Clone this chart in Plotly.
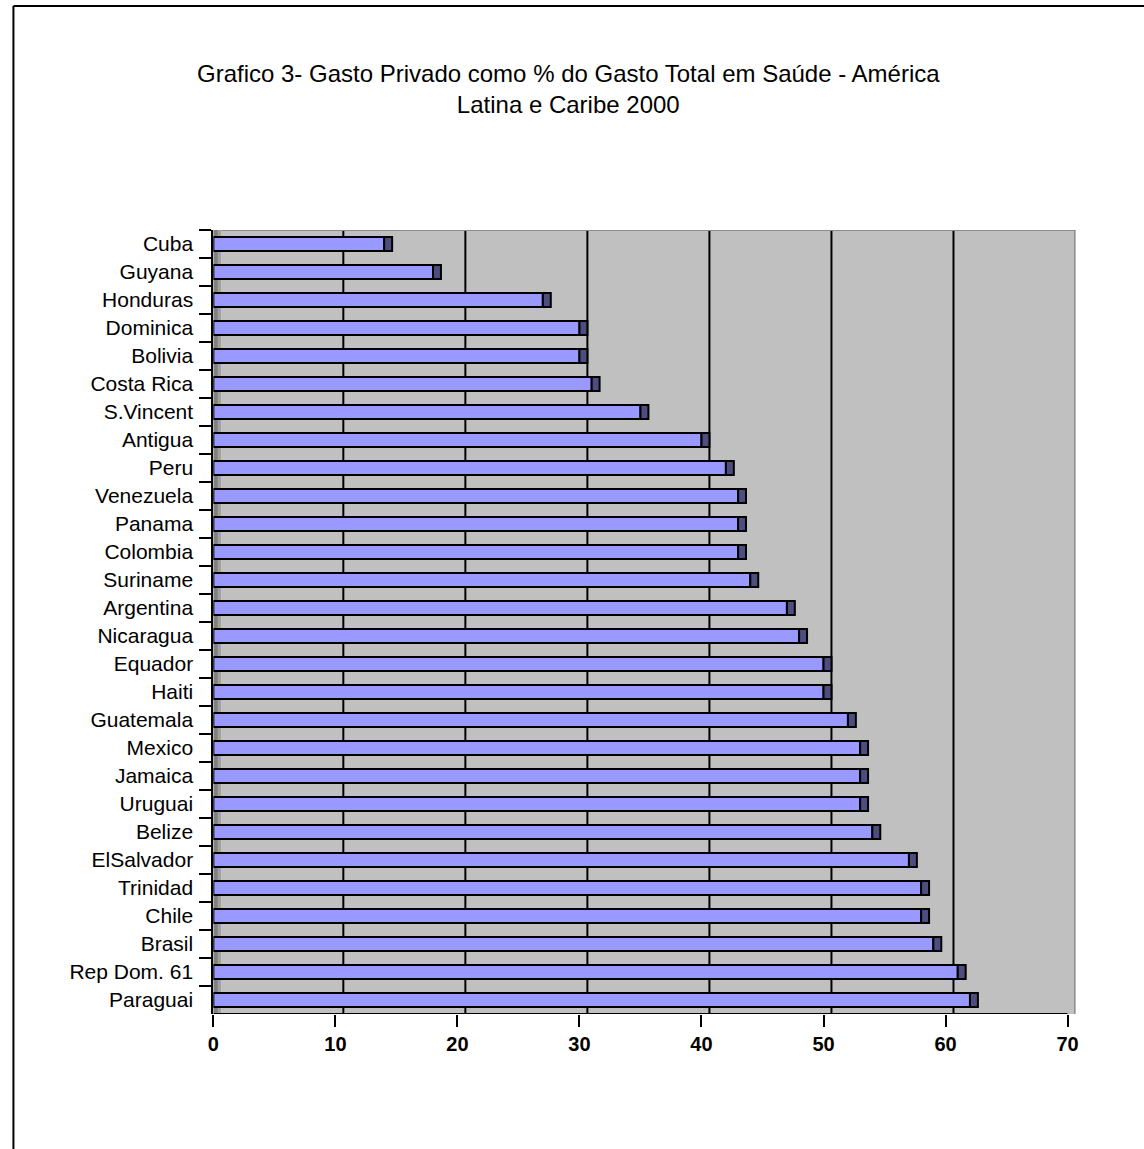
import plotly.graph_objects as go

# Private health spending as a share of total health spending, 2000
countries = [
    "Cuba", "Guyana", "Honduras", "Dominica", "Bolivia", "Costa Rica",
    "S.Vincent", "Antigua", "Peru", "Venezuela", "Panama", "Colombia",
    "Suriname", "Argentina", "Nicaragua", "Equador", "Haiti", "Guatemala",
    "Mexico", "Jamaica", "Uruguai", "Belize", "ElSalvador", "Trinidad",
    "Chile", "Brasil", "Rep Dom. 61", "Paraguai",
]
private_share = [
    14, 18, 27, 30, 30, 31,
    35, 40, 42, 43, 43, 43,
    44, 47, 48, 50, 50, 52,
    53, 53, 53, 54, 57, 58,
    58, 59, 61, 62,
]
x_ticks = [0, 10, 20, 30, 40, 50, 60, 70]
title_lines = [
    "Grafico 3- Gasto Privado como % do Gasto Total em Saúde - América",
    "Latina e Caribe 2000",
]

W, H = 1144, 1149
FONT = "Liberation Sans, Arial, sans-serif"
DEPTH = 0.65            # 3-D depth of the bars / back wall, in axis units
X_MAX = x_ticks[-1] + DEPTH
n = len(countries)
Y_LO, Y_HI = -0.5, n - 0.5

# plot-area placement in pixels
left_px, right_px = 209, 1078
top_px, bottom_px = 230, 1014

fig = go.Figure()

# front face of each bar
fig.add_trace(go.Bar(
    x=private_share, y=countries, orientation="h", width=0.5,
    marker=dict(color="#9999FF", line=dict(color="black", width=2)),
    hoverinfo="x+y", showlegend=False,
))
# dark end cap that gives the bars their depth
fig.add_trace(go.Bar(
    x=[DEPTH] * n, y=countries, base=private_share, orientation="h", width=0.5,
    marker=dict(color="#4D4D80", line=dict(color="black", width=2)),
    hoverinfo="skip", showlegend=False,
))

shapes = []
# back wall
shapes.append(dict(type="rect", xref="x", yref="y", x0=DEPTH, x1=X_MAX,
                   y0=Y_LO, y1=Y_HI, fillcolor="#C0C0C0",
                   line=dict(width=0), layer="below"))
# side wall strip next to the category axis
shapes.append(dict(type="rect", xref="x", yref="y", x0=0, x1=DEPTH,
                   y0=Y_LO, y1=Y_HI, fillcolor="#A0A0A0",
                   line=dict(width=0), layer="below"))
shapes.append(dict(type="rect", xref="x", yref="y", x0=0, x1=DEPTH * 0.55,
                   y0=Y_LO, y1=Y_HI, fillcolor="#808080",
                   line=dict(width=0), layer="below"))
# gridlines on the back wall
for t in x_ticks[1:-1]:
    shapes.append(dict(type="line", xref="x", yref="y", x0=t + DEPTH,
                       x1=t + DEPTH, y0=Y_LO, y1=Y_HI,
                       line=dict(color="black", width=2), layer="below"))
# wall edges (top and right)
shapes.append(dict(type="line", xref="x", yref="y", x0=DEPTH, x1=X_MAX,
                   y0=Y_LO, y1=Y_LO, line=dict(color="#8C8C8C", width=2)))
shapes.append(dict(type="line", xref="x", yref="y", x0=X_MAX, x1=X_MAX,
                   y0=Y_LO, y1=Y_HI, line=dict(color="#8C8C8C", width=3)))
# value axis line
shapes.append(dict(type="line", xref="x", yref="y", x0=0, x1=x_ticks[-1],
                   y0=Y_HI, y1=Y_HI, line=dict(color="black", width=2)))
# chart frame (left and top edges)
shapes.append(dict(type="line", xref="paper", yref="paper",
                   x0=7.5 / W, x1=7.5 / W, y0=-0.02, y1=1 - 6 / H,
                   line=dict(color="black", width=2)))
shapes.append(dict(type="line", xref="paper", yref="paper",
                   x0=7.5 / W, x1=1.02, y0=1 - 6 / H, y1=1 - 6 / H,
                   line=dict(color="black", width=2)))

annotations = [
    dict(text="<br>".join(title_lines),
         xref="paper", yref="paper", x=567 / W, y=1 - 89 / H,
         xanchor="center", yanchor="middle", align="center", showarrow=False,
         font=dict(family=FONT, size=24, color="black")),
]

fig.update_layout(
    width=W, height=H, autosize=False,
    margin=dict(l=0, r=0, t=0, b=0),
    paper_bgcolor="white", plot_bgcolor="rgba(0,0,0,0)",
    barmode="overlay", bargap=0.5,
    shapes=shapes, annotations=annotations,
    font=dict(family=FONT, color="black"),
    xaxis=dict(
        domain=[left_px / W, right_px / W], range=[0, X_MAX],
        tickvals=x_ticks, ticktext=[str(t) for t in x_ticks],
        showgrid=False, zeroline=False, showline=False,
        ticks="outside", ticklen=12, tickwidth=2, tickcolor="black",
        tickfont=dict(family=FONT, size=20, color="black", weight="bold"),
        fixedrange=True,
    ),
    yaxis=dict(
        domain=[1 - bottom_px / H, 1 - top_px / H],
        categoryorder="array", categoryarray=countries,
        range=[Y_HI, Y_LO],
        showgrid=False, zeroline=False,
        showline=True, linecolor="black", linewidth=2,
        ticks="outside", ticklen=12, tickwidth=2, tickcolor="black",
        tickson="boundaries", ticklabelstandoff=14,
        tickfont=dict(family=FONT, size=21, color="black"),
        fixedrange=True,
    ),
)

fig.write_html("out.html")
